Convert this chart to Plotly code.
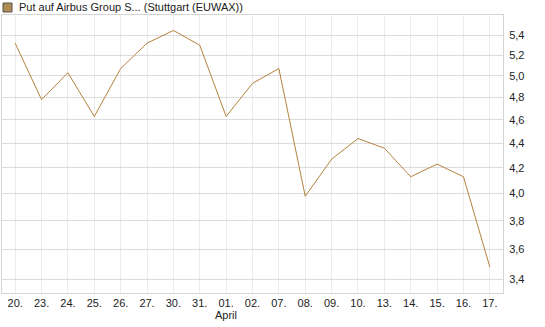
import plotly.graph_objects as go
import numpy as np

categories = ["20.", "23.", "24.", "25.", "26.", "27.", "30.", "31.", "01.", "02.",
              "07.", "08.", "09.", "10.", "13.", "14.", "15.", "16.", "17."]
values = [5.32, 4.78, 5.03, 4.63, 5.07, 5.32, 5.45, 5.30, 4.63, 4.93,
          5.07, 3.98, 4.27, 4.44, 4.36, 4.13, 4.23, 4.13, 3.48]
y_ticks = [3.4, 3.6, 3.8, 4.0, 4.2, 4.4, 4.6, 4.8, 5.0, 5.2, 5.4]
y_ticktext = [f"{v:.1f}".replace(".", ",") for v in y_ticks]
month_label = "April"
month_index = 8
series_name = "Put auf Airbus Group S... (Stuttgart (EUWAX))"

x_idx = list(range(len(categories)))

fig = go.Figure()
fig.add_trace(go.Scatter(
    x=x_idx, y=values, mode="lines",
    line=dict(color="#b5823c", width=1),
    hoverinfo="skip", showlegend=False,
))

font = dict(family="Liberation Sans, Arial, sans-serif", size=11, color="#222222")

fig.update_layout(
    width=545, height=327,
    margin=dict(l=2, r=42, t=15, b=34),
    paper_bgcolor="white", plot_bgcolor="white",
    font=font,
    xaxis=dict(
        tickmode="array", tickvals=x_idx, ticktext=categories,
        range=[-0.5, len(categories) - 0.5],
        showgrid=True, gridcolor="#ececec", gridwidth=1,
        showline=True, linecolor="#d4d4d4", linewidth=1, mirror=True,
        ticks="", zeroline=False, tickfont=font,
    ),
    yaxis=dict(
        type="log", side="right",
        tickmode="array", tickvals=y_ticks, ticktext=y_ticktext,
        range=[np.log10(3.313), np.log10(5.612)],
        showgrid=True, gridcolor="#dcdcdc", gridwidth=1,
        showline=True, linecolor="#d4d4d4", linewidth=1, mirror=True,
        ticks="outside", ticklen=3, tickcolor="white", zeroline=False, tickfont=font,
    ),
)

fig.add_annotation(
    x=month_index, xref="x", y=-13.5 / 278, yref="paper",
    text=month_label, showarrow=False, yanchor="top", font=font,
)
fig.add_annotation(
    x=15 / 501, xref="paper", xanchor="left",
    y=1 + 8 / 278, yref="paper", yanchor="middle",
    text=series_name, showarrow=False, font=font,
)
fig.add_shape(
    type="rect", xref="paper", yref="paper",
    x0=1 / 501, x1=10 / 501, y0=1 + 3 / 278, y1=1 + 12 / 278,
    fillcolor="#b08a50", line=dict(color="#555555", width=1),
)

fig.write_html("out.html")
